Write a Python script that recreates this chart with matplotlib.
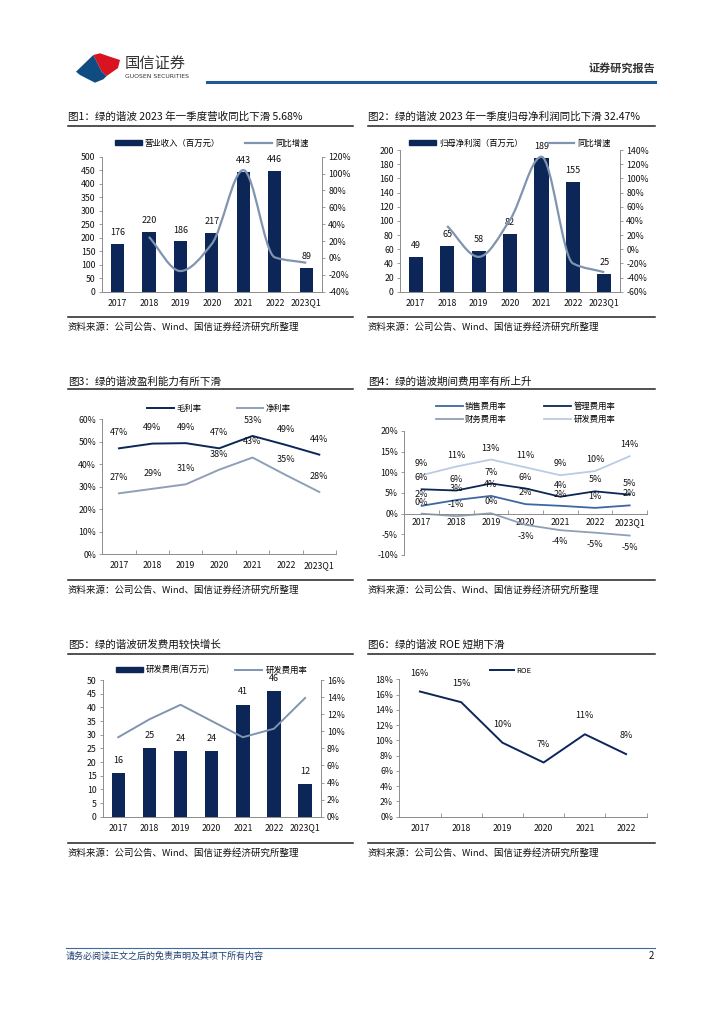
import matplotlib
matplotlib.use("Agg")
import matplotlib.pyplot as plt
import numpy as np
from matplotlib.lines import Line2D
from matplotlib.patches import Patch, Polygon, PathPatch
from matplotlib.path import Path
from matplotlib.ticker import FuncFormatter, MultipleLocator

plt.rcParams["font.family"] = ["Noto Sans CJK SC", "DejaVu Sans"]
plt.rcParams["axes.unicode_minus"] = False

# ---- data ----
years = ["2017", "2018", "2019", "2020", "2021", "2022", "2023Q1"]
revenue = [176, 220, 186, 217, 443, 446, 89]            # 百万元
revenue_yoy = [25.0, -15.5, 16.7, 104.1, 0.7, -5.68]     # %, 2018..2023Q1
net_profit = [49, 65, 58, 82, 189, 155, 25]              # 百万元
net_profit_yoy = [32.7, -10.8, 41.4, 130.5, -20.0, -32.47]
gross_margin = [47.1, 49.2, 49.4, 47.1, 52.6, 48.6, 44.3]
net_margin = [27.1, 29.1, 31.1, 37.6, 43.0, 35.2, 27.7]
sales_rate = [1.9, 3.3, 4.3, 2.3, 1.9, 1.4, 2.0]
admin_rate = [5.9, 5.6, 7.3, 6.1, 4.1, 5.4, 4.6]
finance_rate = [0.0, -0.6, 0.1, -2.7, -4.0, -4.6, -5.3]
rd_rate = [9.3, 11.4, 13.1, 11.2, 9.3, 10.3, 13.9]
rd_expense = [16, 25, 24, 24, 41, 46, 12]
roe_years = ["2017", "2018", "2019", "2020", "2021", "2022"]
roe = [16.4, 15.0, 9.7, 7.1, 10.8, 8.2]

NAVY = "#0b2657"
LINE_GREY = "#8094b0"
SALES_C = "#3d67a3"
FIN_C = "#8fa0b6"
RD_C = "#b9cce4"
SPINE = "#8c8c8c"
SOURCE = "资料来源：公司公告、Wind、国信证券经济研究所整理"
LAB = 6.5

W, H = 724, 1024
fig = plt.figure(figsize=(W / 100, H / 100), dpi=100)


def ax_at(x0, y0, x1, y1):
    return fig.add_axes([x0 / W, 1 - y1 / H, (x1 - x0) / W, (y1 - y0) / H])


def ftext(x, y, s, **kw):
    fig.text(x / W, 1 - y / H, s, **kw)


def hline(x0, x1, y, color="#222222", lw=1.0):
    fig.add_artist(Line2D([x0 / W, x1 / W], [1 - y / H, 1 - y / H],
                          color=color, lw=lw, transform=fig.transFigure))


def pct(dec=0):
    return FuncFormatter(lambda v, p: f"{v:.{dec}f}%")


def smooth_path(xs, ys):
    # smoothed line through the points (monotone cubic tangents, drawn as bezier)
    xs = np.asarray(xs, float)
    ys = np.asarray(ys, float)
    n = len(xs)
    h = np.diff(xs)
    d = np.diff(ys) / h
    m = np.zeros(n)
    m[0], m[-1] = d[0], d[-1]
    for k in range(1, n - 1):
        if d[k - 1] * d[k] > 0:
            m[k] = 2 * d[k - 1] * d[k] / (d[k - 1] + d[k])
    verts, codes = [(xs[0], ys[0])], [Path.MOVETO]
    for k in range(n - 1):
        verts += [(xs[k] + h[k] / 3, ys[k] + m[k] * h[k] / 3),
                  (xs[k + 1] - h[k] / 3, ys[k + 1] - m[k + 1] * h[k] / 3),
                  (xs[k + 1], ys[k + 1])]
        codes += [Path.CURVE4] * 3
    return Path(verts, codes)


def style(ax, left=True, right=False, bottom=True):
    for s in ["top", "left", "right", "bottom"]:
        ax.spines[s].set_visible(False)
    for s, on in [("left", left), ("right", right), ("bottom", bottom)]:
        if on:
            ax.spines[s].set_visible(True)
            ax.spines[s].set_color(SPINE)
            ax.spines[s].set_linewidth(0.7)
    ax.tick_params(axis="both", labelsize=6.3, length=2.5, width=0.6,
                   color=SPINE, pad=2, labelcolor="#111111")
    ax.set_facecolor("none")


def cat_axis(ax, labels, boundary_ticks=True):
    n = len(labels)
    ax.set_xlim(-0.5, n - 0.5)
    ax.set_xticks(range(n))
    ax.set_xticklabels(labels)
    ax.tick_params(axis="x", which="major", length=0, pad=5)
    if boundary_ticks:
        ax.set_xticks(np.arange(-0.5, n, 1), minor=True)
        ax.tick_params(axis="x", which="minor", direction="in", length=3,
                       width=0.6, color=SPINE)


def frame(x0, x1, y_title, y_rule, y_src_rule, title):
    ftext(x0, y_title, title, fontsize=7.6, va="center", ha="left", color="#111111")
    hline(x0, x1, y_rule, lw=1.1)
    hline(x0, x1, y_src_rule, lw=1.1)
    ftext(x0, y_src_rule + 10.5, SOURCE, fontsize=6.8, va="center", ha="left",
          color="#111111")


def bar_labels(ax, xs, vals, off):
    for xi, v in zip(xs, vals):
        ax.annotate(f"{v}", (xi, v), xytext=(0, off), textcoords="offset points",
                    ha="center", va="bottom", fontsize=LAB, color="#111111")


# ---- page header ----
red = [(93.3, 55), (100, 53.3), (110, 56.7), (120, 60), (118, 68), (106.7, 76),
       (101.7, 71.7), (96.7, 61.7)]
blue = [(76, 71.7), (93.3, 55), (96.7, 61.7), (101.7, 71.7), (106.7, 76),
        (103.3, 79.3), (95, 82.7), (88.3, 79.3), (80, 75)]
for pts, c in [(red, "#d7141f"), (blue, "#0f4c81")]:
    fig.add_artist(Polygon([(x / W, 1 - y / H) for x, y in pts], closed=True,
                           facecolor=c, edgecolor="none", transform=fig.transFigure))
ftext(125, 63, "国信证券", fontsize=11, va="center", ha="left", color="#333333")
ftext(125, 77, "GUOSEN SECURITIES", fontsize=4.4, va="center", ha="left",
      color="#333333", family=["DejaVu Sans"])
hline(207, 655, 81.5, color="#1f5a94", lw=2.2)
ftext(655, 68, "证券研究报告", fontsize=8, va="center", ha="right",
      color="#333333", fontweight="bold")

# ---- footer ----
hline(66, 655, 948, color="#3a6d9e", lw=0.8)
ftext(66, 956, "请务必阅读正文之后的免责声明及其项下所有内容", fontsize=6.5,
      va="center", ha="left", color="#1f3f6e", style="italic")
ftext(654, 956, "2", fontsize=7, va="center", ha="right", color="#111111")

x = np.arange(len(years))

# ---- 图1 ----
frame(68, 353, 117, 126, 317, "图1：绿的谐波 2023 年一季度营收同比下滑 5.68%")
ax = ax_at(101.7, 156.7, 322, 291.7)
style(ax, left=True, right=False, bottom=True)
ax.bar(x, revenue, width=0.42, color=NAVY, zorder=2)
bar_labels(ax, x, revenue, 5)
ax.set_ylim(0, 500)
ax.yaxis.set_major_locator(MultipleLocator(50))
cat_axis(ax, years, boundary_ticks=False)
ax2 = ax.twinx()
style(ax2, left=False, right=True, bottom=False)
ax2.set_ylim(-40, 120)
ax2.yaxis.set_major_locator(MultipleLocator(20))
ax2.yaxis.set_major_formatter(pct())
ax2.add_patch(PathPatch(smooth_path(x[1:], revenue_yoy), fill=False,
                        edgecolor=LINE_GREY, lw=1.6, zorder=3))
ax.legend([Patch(color=NAVY), Line2D([], [], color=LINE_GREY, lw=1.6)],
          ["营业收入（百万元）", "同比增速"], loc="center", bbox_to_anchor=(0.5, 1.1),
          ncol=2, frameon=False, fontsize=6, handlelength=3.2, handleheight=0.6,
          columnspacing=3.0, handletextpad=0.4)

# ---- 图2 ----
frame(368, 655, 117, 126, 317, "图2：绿的谐波 2023 年一季度归母净利润同比下滑 32.47%")
ax = ax_at(400, 150, 620, 291.7)
style(ax, left=True, right=False, bottom=True)
ax.bar(x, net_profit, width=0.45, color=NAVY, zorder=2)
bar_labels(ax, x, net_profit, 5)
ax.set_ylim(0, 200)
ax.yaxis.set_major_locator(MultipleLocator(20))
cat_axis(ax, years, boundary_ticks=False)
ax2 = ax.twinx()
style(ax2, left=False, right=True, bottom=False)
ax2.set_ylim(-60, 140)
ax2.yaxis.set_major_locator(MultipleLocator(20))
ax2.yaxis.set_major_formatter(pct())
ax2.add_patch(PathPatch(smooth_path(x[1:], net_profit_yoy), fill=False,
                        edgecolor=LINE_GREY, lw=1.6, zorder=3))
ax.legend([Patch(color=NAVY), Line2D([], [], color=LINE_GREY, lw=1.6)],
          ["归母净利润（百万元）", "同比增速"], loc="center", bbox_to_anchor=(0.5, 1.05),
          ncol=2, frameon=False, fontsize=6, handlelength=3.2, handleheight=0.6,
          columnspacing=3.0, handletextpad=0.4)

# ---- 图3 ----
frame(68, 353, 381.7, 389.3, 580, "图3：绿的谐波盈利能力有所下滑")
ax = ax_at(102.3, 419.3, 336, 554.3)
style(ax, left=True, right=False, bottom=True)
ax.plot(x, gross_margin, color=NAVY, lw=1.4, label="毛利率")
ax.plot(x, net_margin, color=FIN_C, lw=1.4, label="净利率")
for series in (gross_margin, net_margin):
    for xi, v in zip(x, series):
        ax.annotate(f"{round(v):.0f}%", (xi, v), xytext=(0, 8),
                    textcoords="offset points", ha="center", va="bottom",
                    fontsize=LAB, color="#111111")
ax.set_ylim(0, 60)
ax.yaxis.set_major_locator(MultipleLocator(10))
ax.yaxis.set_major_formatter(pct())
cat_axis(ax, years)
ax.legend(loc="center", bbox_to_anchor=(0.5, 1.08), ncol=2, frameon=False,
          fontsize=6, handlelength=3.2, columnspacing=4.2, handletextpad=0.3)

# ---- 图4 ----
frame(368, 655, 381.7, 389.3, 580, "图4：绿的谐波期间费用率有所上升")
ax = ax_at(404.3, 431, 647, 555)
style(ax, left=True, right=False, bottom=True)
ax.spines["bottom"].set_position(("data", 0))
rows = [(sales_rate, SALES_C, "销售费用率"), (admin_rate, NAVY, "管理费用率"),
        (finance_rate, FIN_C, "财务费用率"), (rd_rate, RD_C, "研发费用率")]
handles = {}
for series, c, lab in rows:
    handles[lab], = ax.plot(x, series, color=c, lw=1.3, label=lab)
    for xi, v in zip(x, series):
        below = v < -1
        ax.annotate(f"{round(v):.0f}%", (xi, v), xytext=(0, -5 if below else 5),
                    textcoords="offset points", ha="center",
                    va="top" if below else "bottom", fontsize=LAB, color="#111111")
ax.set_ylim(-10, 20)
ax.yaxis.set_major_locator(MultipleLocator(5))
ax.yaxis.set_major_formatter(pct())
cat_axis(ax, years)
ax.tick_params(axis="x", which="major", pad=3)
order = ["销售费用率", "财务费用率", "管理费用率", "研发费用率"]
ax.legend([handles[k] for k in order], order, loc="center",
          bbox_to_anchor=(0.5, 1.145), ncol=2, frameon=False, fontsize=6,
          handlelength=3.2, columnspacing=4.5, handletextpad=0.3, labelspacing=0.5)

# ---- 图5 ----
frame(68, 353, 645, 654, 842.7, "图5：绿的谐波研发费用较快增长")
ax = ax_at(102.7, 680, 320.7, 816.7)
style(ax, left=True, right=False, bottom=True)
ax.bar(x, rd_expense, width=0.43, color=NAVY, zorder=2)
bar_labels(ax, x, rd_expense, 6)
ax.set_ylim(0, 50)
ax.yaxis.set_major_locator(MultipleLocator(5))
cat_axis(ax, years, boundary_ticks=False)
ax2 = ax.twinx()
style(ax2, left=False, right=True, bottom=False)
ax2.set_ylim(0, 16)
ax2.yaxis.set_major_locator(MultipleLocator(2))
ax2.yaxis.set_major_formatter(pct())
ax2.plot(x, rd_rate, color=LINE_GREY, lw=1.4, zorder=3)
ax.legend([Patch(color=NAVY), Line2D([], [], color=LINE_GREY, lw=1.4)],
          ["研发费用(百万元)", "研发费用率"], loc="center", bbox_to_anchor=(0.5, 1.073),
          ncol=2, frameon=False, fontsize=6, handlelength=3.2, handleheight=0.6,
          columnspacing=3.0, handletextpad=0.4)

# ---- 图6 ----
frame(368, 655, 645, 654, 842.7, "图6：绿的谐波 ROE 短期下滑")
ax = ax_at(399.3, 679.3, 646.7, 816.7)
style(ax, left=True, right=False, bottom=True)
xr = np.arange(len(roe_years))
ax.plot(xr, roe, color=NAVY, lw=1.4, label="ROE")
for xi, v in zip(xr, roe):
    ax.annotate(f"{round(v):.0f}%", (xi, v), xytext=(0, 10),
                textcoords="offset points", ha="center", va="bottom",
                fontsize=LAB, color="#111111")
ax.set_ylim(0, 18)
ax.yaxis.set_major_locator(MultipleLocator(2))
ax.yaxis.set_major_formatter(pct())
cat_axis(ax, roe_years)
ax.legend(loc="center", bbox_to_anchor=(0.45, 1.06), ncol=1, frameon=False,
          fontsize=5.5, handlelength=3.2, handletextpad=0.3)

fig.savefig("out.png", dpi=100, facecolor="white")
